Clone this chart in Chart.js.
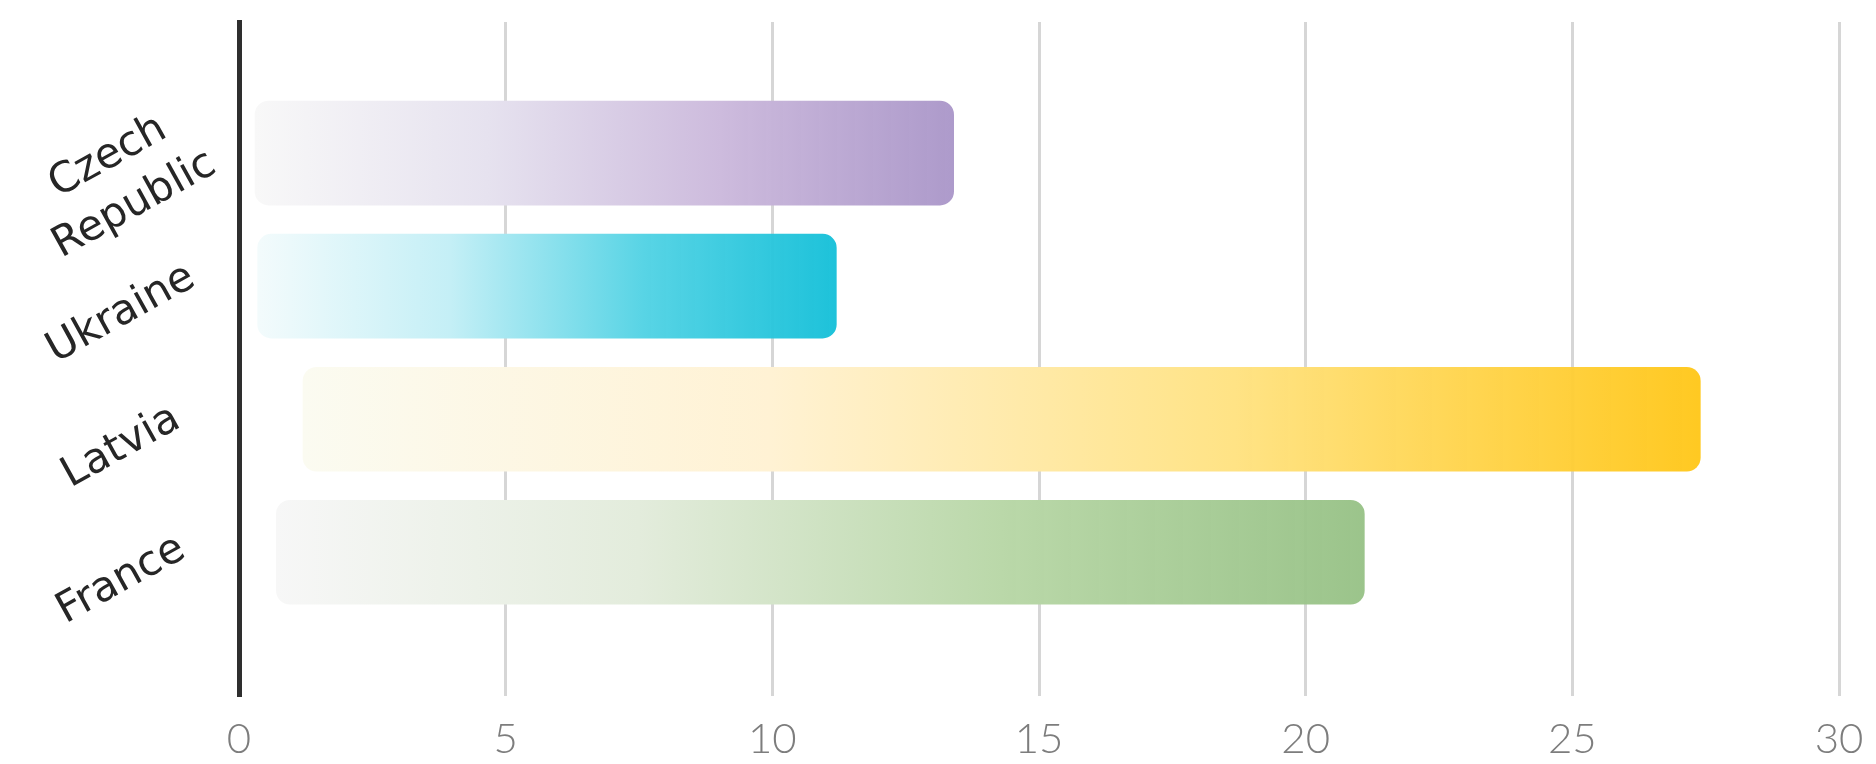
<!DOCTYPE html>
<html>
<head>
<meta charset="utf-8">
<title>Bars by country</title>
<script src="https://cdn.jsdelivr.net/npm/chart.js@4.4.1/dist/chart.umd.min.js"></script>
<style>
  html, body { margin: 0; padding: 0; background: #fff; }
  #wrap { width: 1876px; height: 764px; }
</style>
</head>
<body>
<div id="wrap"><canvas id="barChart"></canvas></div>
<script>
// categories, top to bottom
const countries = [['Czech', 'Republic'], 'Ukraine', 'Latvia', 'France'];
// where each bar fades in, and where it ends
const barStarts = [0.3, 0.35, 1.2, 0.7];
const barEnds = [13.4, 11.2, 27.4, 21.1];
const xTicks = [0, 5, 10, 15, 20, 25, 30];

// gradient stops per bar, pale on the left to full colour on the right
const barColors = [
    ['#f8f8f8', '#e6e2ef', '#cdbbdd', 'rgba(169,149,200,0.95)'],
    ['#f3fbfc', '#c4eff6', '#58d4e5', 'rgba(18,191,216,0.95)'],
    ['#fbfbf1', '#fff2d4', '#ffe385', 'rgba(255,198,22,0.95)'],
    ['#f7f7f7', '#e3ecdc', '#bad8a9', 'rgba(150,193,133,0.95)']
];

function barGradient(context) {
    const chart = context.chart;
    const i = context.dataIndex;
    const stops = barColors[i];
    if (!chart.chartArea || !chart.scales.x) return stops[stops.length - 1];
    const xs = chart.scales.x;
    const g = chart.ctx.createLinearGradient(
        xs.getPixelForValue(barStarts[i]), 0, xs.getPixelForValue(barEnds[i]), 0);
    stops.forEach((c, k) => g.addColorStop(k / (stops.length - 1), c));
    return g;
}

const ctx = document.getElementById('barChart').getContext('2d');
const barChart = new Chart(ctx, {
    type: 'bar',
    data: {
        datasets: [{
            data: countries.map((c, i) => ({ x: [barStarts[i], barEnds[i]], y: i })),
            backgroundColor: barGradient,
            borderWidth: 0,
            borderRadius: 14,
            borderSkipped: false,
            barThickness: 104
        }]
    },
    options: {
        indexAxis: 'y',
        responsive: true,
        maintainAspectRatio: false,
        animation: false,
        layout: { padding: { top: 22, right: 37, left: 0, bottom: 0 } },
        plugins: {
            legend: { display: false },
            tooltip: { enabled: false }
        },
        scales: {
            x: {
                type: 'linear',
                position: 'bottom',
                min: 0,
                max: 30,
                offset: false,
                afterBuildTicks: s => { s.ticks = xTicks.map(v => ({ value: v })); },
                afterFit: s => { s.height = 68; s.paddingLeft = 0; s.paddingRight = 0; },
                grid: { color: '#d6d6d6', lineWidth: 3, drawTicks: false, offset: false },
                border: { display: false },
                ticks: {
                    padding: 18,
                    maxRotation: 0,
                    color: '#7d7d7d',
                    font: { family: 'Lato', size: 42, weight: '300' }
                }
            },
            y: {
                type: 'linear',
                reverse: true,
                offset: false,
                bounds: 'data',
                min: -0.985,
                max: 4.08,
                afterBuildTicks: s => { s.ticks = countries.map((c, i) => ({ value: i })); },
                afterFit: s => { s.width = 239; s.paddingTop = 0; s.paddingBottom = 0; },
                grid: { display: false, drawTicks: false, offset: false },
                border: { display: true, color: '#2e2e2e', width: 5 },
                ticks: {
                    autoSkip: false,
                    callback: v => countries[v],
                    crossAlign: 'center',
                    minRotation: 29,
                    maxRotation: 29,
                    padding: 28,
                    labelOffset: 28,
                    color: '#262626',
                    font: { family: 'DejaVu Sans', size: 42, lineHeight: 1.3 }
                }
            }
        }
    }
});
</script>
</body>
</html>
